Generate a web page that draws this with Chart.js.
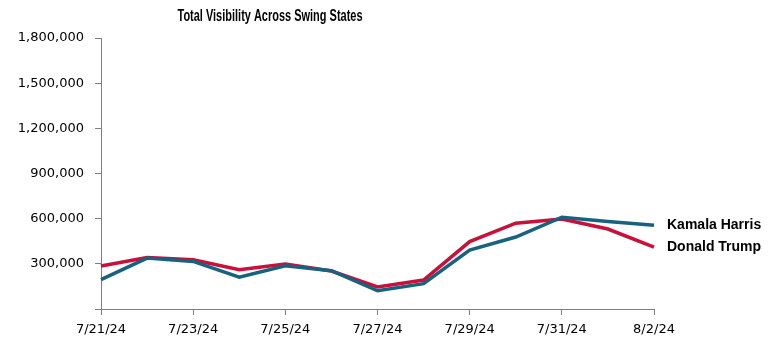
<!DOCTYPE html>
<html>
<head>
<meta charset="utf-8">
<script src="https://cdn.jsdelivr.net/npm/chart.js@4/dist/chart.umd.min.js"></script>
<style>
  html, body { margin: 0; padding: 0; background: #fff; }
  #wrap { width: 780px; height: 352px; }
</style>
</head>
<body>
<div id="wrap"><canvas id="chart"></canvas></div>
<script>
  var dates = ['7/21/24', '7/22/24', '7/23/24', '7/24/24', '7/25/24', '7/26/24', '7/27/24',
    '7/28/24', '7/29/24', '7/30/24', '7/31/24', '8/1/24', '8/2/24'];
  var harris = [195000, 338000, 316000, 212000, 287000, 254000, 121000, 168000, 391000, 478000, 610000, 581000, 557000];
  var trump = [285000, 342000, 327000, 261000, 298000, 252000, 146000, 192000, 448000, 570000, 597000, 531000, 411000];
  var yTicks = [0, 300000, 600000, 900000, 1200000, 1500000, 1800000];
  var titleText = 'Total Visibility Across Swing States';

  var axisColor = '#7f7f7f';
  var tickFont = { family: 'DejaVu Sans', size: 13 };

  // title drawn by hand so it can be squeezed like the narrow original font
  var titlePlugin = {
    id: 'narrowTitle',
    afterDraw: function (chart) {
      var ctx = chart.ctx;
      ctx.save();
      ctx.font = 'bold 16px "Liberation Sans Narrow", "Liberation Sans", sans-serif';
      ctx.fillStyle = '#000';
      ctx.textAlign = 'center';
      ctx.textBaseline = 'middle';
      var w = ctx.measureText(titleText).width;
      var target = 185;
      ctx.translate(270, 17);
      ctx.scale(Math.min(1, target / w), 1);
      ctx.fillText(titleText, 0, 0);
      ctx.restore();
    }
  };

  // series names at the end of each line
  var endLabels = {
    id: 'endLabels',
    afterDatasetsDraw: function (chart) {
      var ctx = chart.ctx;
      ctx.save();
      ctx.font = 'bold 14px "Liberation Sans", Arial, sans-serif';
      ctx.fillStyle = '#000';
      ctx.textBaseline = 'middle';
      chart.data.datasets.forEach(function (ds, i) {
        var pts = chart.getDatasetMeta(i).data;
        var p = pts[pts.length - 1];
        ctx.fillText(ds.label, p.x + 13, p.y);
      });
      ctx.restore();
    }
  };

  new Chart(document.getElementById('chart'), {
    type: 'line',
    data: {
      labels: dates,
      datasets: [
        {
          label: 'Kamala Harris',
          data: harris,
          borderColor: '#17627f',
          borderWidth: 3.5,
          pointRadius: 0,
          tension: 0
        },
        {
          label: 'Donald Trump',
          data: trump,
          borderColor: '#c8103a',
          borderWidth: 3.5,
          pointRadius: 0,
          tension: 0
        }
      ]
    },
    options: {
      responsive: true,
      maintainAspectRatio: false,
      animation: false,
      layout: { padding: { top: 38, right: 126, bottom: 0, left: 0 } },
      plugins: {
        legend: { display: false },
        title: { display: false },
        tooltip: { enabled: false }
      },
      scales: {
        x: {
          offset: false,
          grid: {
            drawOnChartArea: false,
            tickLength: 6,
            tickColor: function (c) { return c.index % 2 === 0 ? axisColor : 'rgba(0,0,0,0)'; }
          },
          border: { color: axisColor, width: 1 },
          ticks: {
            autoSkip: false,
            maxRotation: 0,
            padding: 7,
            color: '#000',
            font: tickFont,
            callback: function (v, i) { return i % 2 === 0 ? dates[i] : ''; }
          },
          afterFit: function (scale) { scale.height = 43; }
        },
        y: {
          min: yTicks[0],
          max: yTicks[yTicks.length - 1],
          grid: { drawOnChartArea: false, tickLength: 6, tickColor: axisColor },
          border: { color: axisColor, width: 1 },
          afterBuildTicks: function (scale) {
            scale.ticks = yTicks.map(function (v) { return { value: v }; });
          },
          ticks: {
            padding: 11,
            color: '#000',
            font: tickFont,
            callback: function (v) { return v === 0 ? '' : v.toLocaleString('en-US'); }
          },
          afterFit: function (scale) { scale.width = 101; }
        }
      }
    },
    plugins: [titlePlugin, endLabels]
  });
</script>
</body>
</html>
